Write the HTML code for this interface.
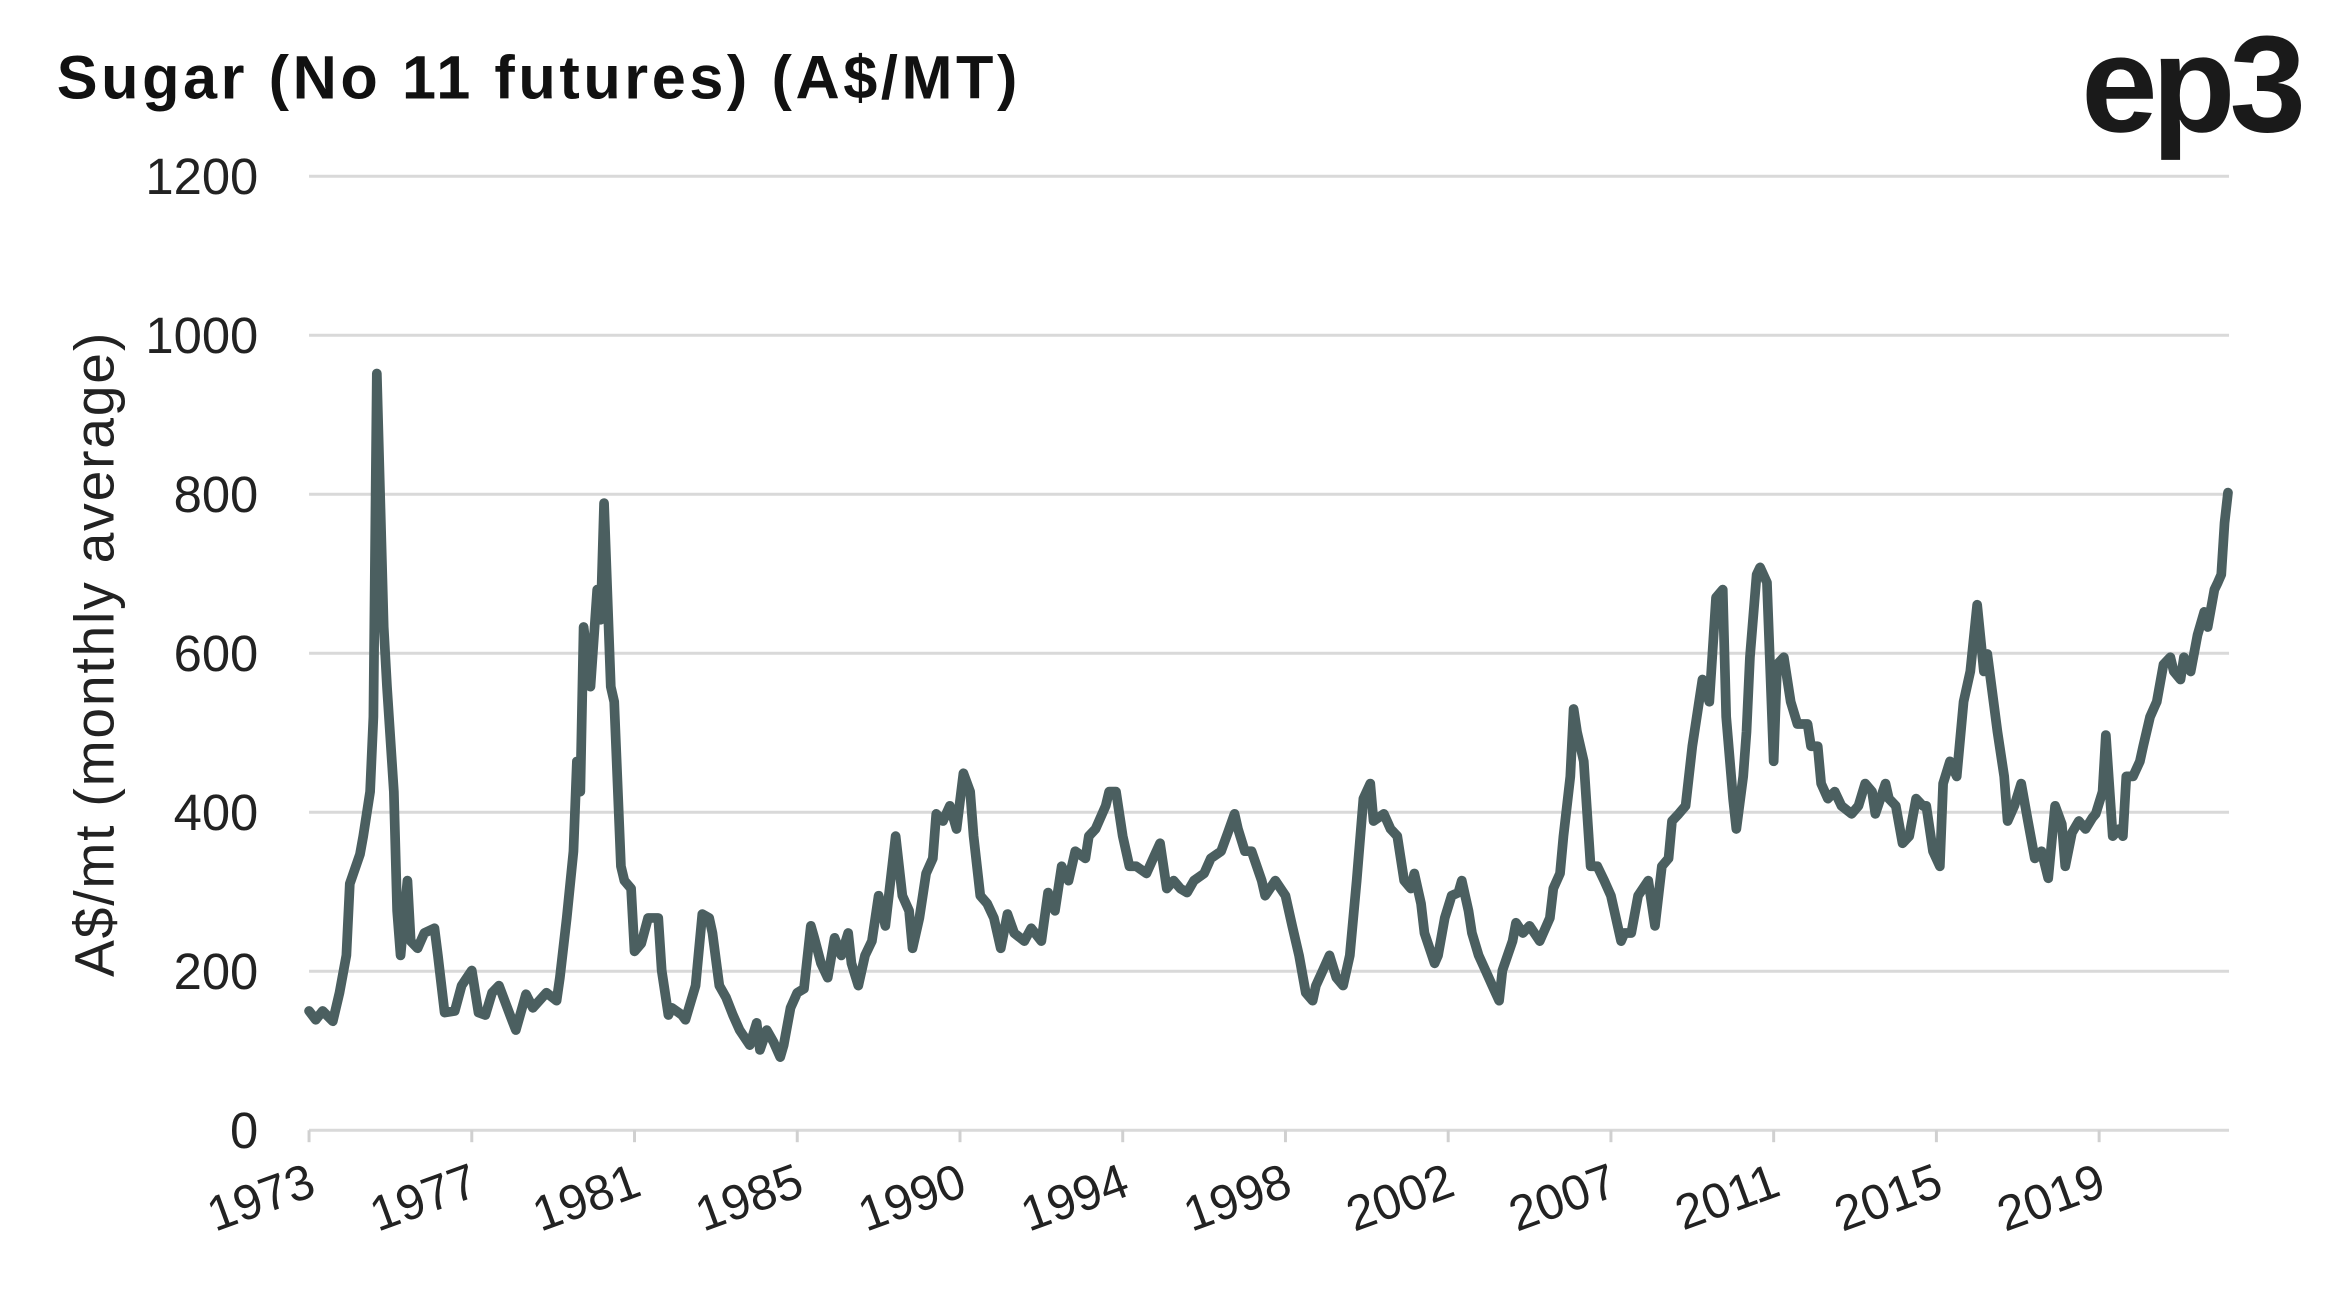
<!DOCTYPE html>
<html><head><meta charset="utf-8"><style>
html,body{margin:0;padding:0;background:#fff;}
svg{display:block;font-family:"Liberation Sans",sans-serif;}
</style></head><body>
<svg id="chart" width="2341" height="1302" viewBox="0 0 1568 872" xmlns="http://www.w3.org/2000/svg">
<text x="38" y="66" font-size="41" font-weight="bold" fill="#111" letter-spacing="2.4">Sugar (No 11 futures) (A$/MT)</text>
<text x="1394" y="88" font-size="92" font-weight="bold" fill="#1a1a1a" letter-spacing="-4">ep3</text>
<text transform="translate(76,438) rotate(-90)" text-anchor="middle" font-size="37" fill="#222" letter-spacing="1.2">A$/mt (monthly average)</text>
<g id="grid"></g><g id="yticks"></g><g id="xticks"></g>
<path id="series" fill="none" stroke="#4b5f60" stroke-width="6.5" stroke-linejoin="round" stroke-linecap="round"/>
</svg>
<script>
const yTicks=[0,200,400,600,800,1000,1200];
const xLabels=["1973","1977","1981","1985","1990","1994","1998","2002","2007","2011","2015","2019"];
const months=[0,2,4,7,9,11,12,15,16,18,19,20,22,23,25,26,27,29,30,32,34,37,38,40,43,45,48,50,52,54,56,59,61,64,66,70,73,74,76,78,79,80,81,83,85,86,87,89,90,92,93,95,96,98,100,103,104,106,107,110,111,114,116,118,119,121,123,125,127,130,132,133,135,137,139,140,142,144,146,148,149,151,153,155,157,159,160,162,164,166,168,170,173,175,177,178,180,182,184,185,187,189,191,193,195,196,198,200,202,204,206,208,211,213,216,218,220,222,224,226,229,230,232,235,236,238,240,242,244,247,249,251,253,255,257,259,261,264,266,269,271,273,274,276,278,281,282,285,288,290,292,294,296,297,299,301,303,305,307,309,311,313,314,317,319,321,323,325,326,328,329,332,333,335,337,339,340,342,343,345,347,349,351,352,355,356,358,360,363,366,367,369,370,372,373,374,376,378,380,382,384,387,388,390,392,395,397,399,401,402,404,406,408,411,413,415,417,418,420,421,423,424,425,427,428,430,432,433,435,437,439,442,443,445,446,448,450,452,455,457,459,461,462,465,466,468,470,472,474,476,477,479,481,482,484,486,488,490,492,494,495,498,500,501,503,505,507,509,511,513,515,517,518,520,522,524,526,527,529,530,532,534,535,536,538,540,541,543,545,547,549,550,552,553,555,557,559,560,562,563,564,565,566];
const prices=[150,139,150,137,173,220,310,347,370,426,520,952,633,558,426,276,220,314,238,229,248,254,220,148,150,182,201,148,145,173,182,148,126,171,154,173,163,192,267,351,464,426,633,558,680,642,789,558,539,332,314,304,225,235,267,267,201,145,154,145,139,182,272,267,248,182,167,145,126,107,135,101,126,111,92,107,154,173,178,257,242,210,192,242,220,248,210,182,220,238,295,257,370,295,276,229,267,323,342,398,389,408,379,449,426,370,295,285,267,229,272,248,238,254,238,299,276,332,314,351,342,370,379,408,426,426,370,332,332,323,342,361,304,314,304,299,314,323,342,351,374,398,379,351,351,314,295,314,295,257,220,173,163,182,201,220,192,182,220,314,417,436,389,398,379,370,314,304,323,285,248,210,220,267,295,299,314,276,248,220,201,182,163,201,238,261,248,257,238,267,304,323,370,445,530,501,464,332,332,314,295,238,248,248,295,314,257,332,342,389,398,408,483,567,539,670,680,520,417,379,445,501,595,699,708,689,464,586,595,539,511,511,483,483,436,417,426,408,398,408,436,426,398,436,417,408,361,370,417,408,408,351,332,436,464,445,539,577,661,577,599,501,445,389,408,436,389,342,351,317,408,385,332,374,389,379,393,398,426,497,370,379,370,445,445,464,483,520,539,586,595,577,567,595,577,623,652,633,680,689,699,764,802];
const NS="http://www.w3.org/2000/svg";
const X0=207,TICKW=109,MPT=48,Y0=757,YPX=106.5/200;
function xs(m){return X0+m/MPT*TICKW;}
function ys(v){return Y0-v*YPX;}
const grid=document.getElementById('grid'),yt=document.getElementById('yticks'),xt=document.getElementById('xticks');
yTicks.forEach(v=>{
 const l=document.createElementNS(NS,'line');
 
 
 l.setAttribute('x1',X0);l.setAttribute('x2',1493);l.setAttribute('y1',ys(v));l.setAttribute('y2',ys(v));
 l.setAttribute('stroke','#d9d9d9');l.setAttribute('stroke-width','2');
 grid.appendChild(l);
 const t=document.createElementNS(NS,'text');
 
 
 t.setAttribute('x',173);t.setAttribute('y',ys(v)+12);t.setAttribute('text-anchor','end');
 t.setAttribute('font-size','34');t.setAttribute('fill','#222');t.textContent=v;
 yt.appendChild(t);
});
xLabels.forEach((s,i)=>{
 const x=xs(i*MPT);
 const k=document.createElementNS(NS,'line');
 
 
 k.setAttribute('x1',x);k.setAttribute('x2',x);k.setAttribute('y1',Y0);k.setAttribute('y2',Y0+8);
 k.setAttribute('stroke','#d0d0d0');k.setAttribute('stroke-width','2');
 xt.appendChild(k);
 const t=document.createElementNS(NS,'text');
 
 
 t.setAttribute('transform','translate('+(x+6)+',800) rotate(-20)');
 t.setAttribute('text-anchor','end');t.setAttribute('font-size','33');t.setAttribute('fill','#222');
 t.textContent=s;xt.appendChild(t);
});
let d='';
months.forEach((m,i)=>{d+=(i?'L':'M')+xs(m).toFixed(1)+','+ys(prices[i]).toFixed(1);});
document.getElementById('series').setAttribute('d',d);
</script>
</body></html>
